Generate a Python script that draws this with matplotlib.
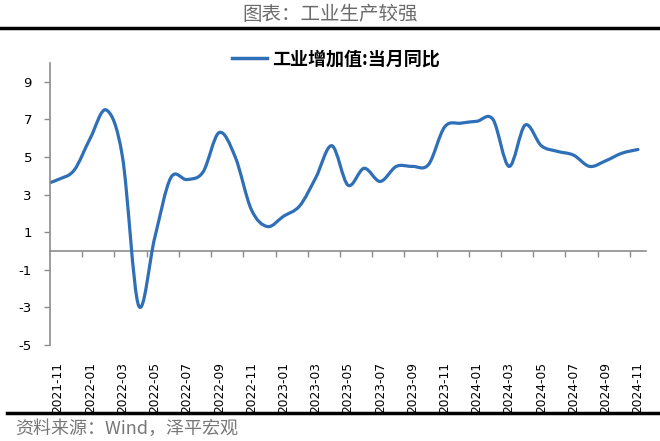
import numpy as np
import matplotlib
matplotlib.use('Agg')
import matplotlib.pyplot as plt
from matplotlib.path import Path
from matplotlib.patches import PathPatch
from matplotlib.lines import Line2D

# ==========================================
# DATA
# ==========================================
months = ['2021-10', '2021-11', '2021-12',
          '2022-01', '2022-02', '2022-03', '2022-04', '2022-05', '2022-06',
          '2022-07', '2022-08', '2022-09', '2022-10', '2022-11', '2022-12',
          '2023-01', '2023-02', '2023-03', '2023-04', '2023-05', '2023-06',
          '2023-07', '2023-08', '2023-09', '2023-10', '2023-11', '2023-12',
          '2024-01', '2024-02', '2024-03', '2024-04', '2024-05', '2024-06',
          '2024-07', '2024-08', '2024-09', '2024-10', '2024-11']
ip_yoy = [3.5, 3.8, 4.3,
          6.0, 7.5, 5.0, -2.9, 0.7, 3.9,
          3.8, 4.2, 6.3, 5.0, 2.2, 1.3,
          1.85, 2.4, 3.9, 5.6, 3.5, 4.4,
          3.7, 4.5, 4.5, 4.6, 6.6, 6.8,
          6.9, 7.0, 4.5, 6.7, 5.6, 5.3,
          5.1, 4.5, 4.8, 5.2, 5.4]
series_name = '工业增加值:当月同比'
title = '图表：工业生产较强'
source = '资料来源：Wind，泽平宏观'
y_ticks = [-5, -3, -1, 1, 3, 5, 7, 9]

BLUE = '#2e6fb7'
GREY = '#8c8c8c'
CJK = ['Noto Sans CJK SC', 'DejaVu Sans']


def smooth_path(xs, ys):
    """Courbe lissée type Excel (Catmull-Rom -> Bezier cubique)."""
    pts = np.column_stack([xs, ys]).astype(float)
    n = len(pts)
    verts = [pts[0]]
    codes = [Path.MOVETO]
    for i in range(n - 1):
        p0 = pts[i - 1] if i > 0 else pts[i]
        p1 = pts[i]
        p2 = pts[i + 1]
        p3 = pts[i + 2] if i + 2 < n else pts[i + 1]
        c1 = p1 + (p2 - p0) / 6.0
        c2 = p2 - (p3 - p1) / 6.0
        verts += [c1, c2, p2]
        codes += [Path.CURVE4] * 3
    return Path(verts, codes)


fig = plt.figure(figsize=(6.6, 4.41), dpi=100)
ax = fig.add_axes([50 / 660, 1 - 345 / 441, 596 / 660, 282 / 441])

x = np.arange(len(months))
curve = PathPatch(smooth_path(x, ip_yoy), fill=False, edgecolor=BLUE,
                  linewidth=2.3, capstyle='round', joinstyle='round')
ax.add_patch(curve)

ax.set_xlim(0.5, len(months) - 0.5)
ax.set_ylim(-5, 10)

# axe Y
ax.set_yticks(y_ticks)
ax.set_yticklabels([str(t) for t in y_ticks])
ax.tick_params(axis='y', direction='out', length=4, width=1, color=GREY,
               labelsize=9.5, pad=9, labelcolor='black')
for s in ['top', 'right', 'bottom']:
    ax.spines[s].set_visible(False)
ax.spines['left'].set_color(GREY)
ax.spines['left'].set_linewidth(1.2)

# etiquettes des mois en bas (tous les 2 mois)
lab_pos = x[1::2]
ax.set_xticks(lab_pos)
ax.set_xticklabels([months[i] for i in lab_pos], rotation=90, fontsize=8.8)
ax.tick_params(axis='x', length=0, pad=12)

# axe horizontal sur zero avec graduations
zero_ax = ax.secondary_xaxis(5 / 15)
zero_ax.set_xticks(x[2::2] + 0.5)
zero_ax.set_xticklabels([])
zero_ax.tick_params(direction='out', length=4, width=1, color=GREY)
zero_ax.spines['bottom'].set_color(GREY)
zero_ax.spines['bottom'].set_linewidth(1.2)

# legende
handle = Line2D([], [], color=BLUE, linewidth=2.5)
leg = fig.legend([handle], [series_name], loc='center',
                 bbox_to_anchor=(336 / 660, 1 - 59 / 441), frameon=False,
                 handlelength=1.9, handletextpad=0.3,
                 prop={'family': CJK, 'size': 13, 'weight': 'bold'})

# titre, filets et source
fig.text(330 / 660, 1 - 14 / 441, title, ha='center', va='center',
         fontsize=14, color='#6b6b6b', family=CJK)
fig.add_artist(Line2D([0, 1], [1 - 28 / 441] * 2, color='black', linewidth=2.5,
                      transform=fig.transFigure))
fig.add_artist(Line2D([0.01, 0.997], [1 - 413 / 441] * 2, color='black',
                      linewidth=2.5, transform=fig.transFigure))
fig.text(15 / 660, 1 - 429 / 441, source, ha='left', va='center',
         fontsize=13, color='#777777', family=CJK, style='italic')

fig.savefig('out.png', dpi=100, facecolor='white')
